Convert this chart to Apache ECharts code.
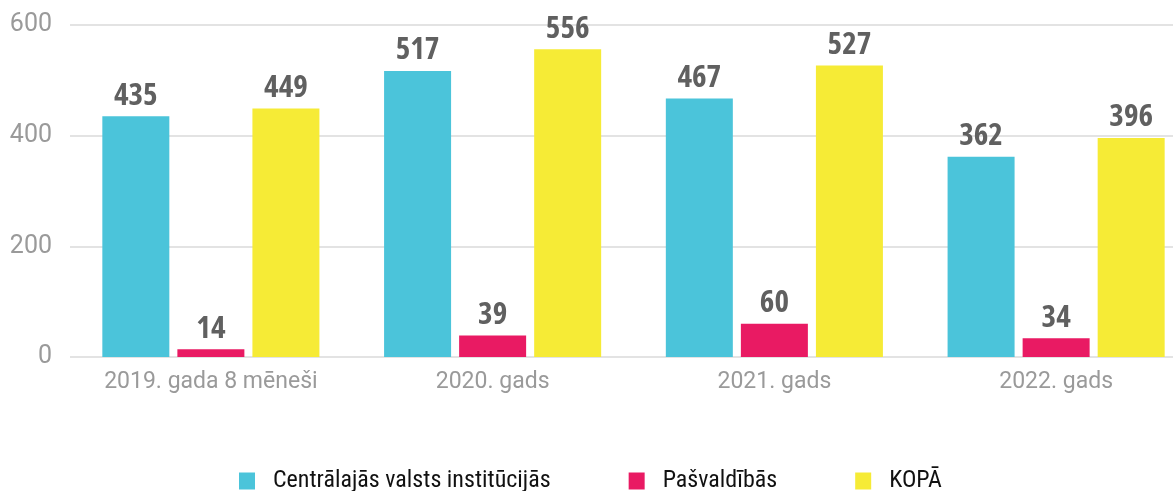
<!DOCTYPE html>
<html><head><meta charset="utf-8">
<script src="https://cdn.jsdelivr.net/npm/echarts@6/dist/echarts.min.js"></script>
<style>html,body{margin:0;padding:0;background:#fff}#c{width:1173px;height:491px}</style>
</head><body><div id="c"></div>
<script>
var categories = ['2019. gada 8 mēneši', '2020. gads', '2021. gads', '2022. gads'];
var seriesNames = ['Centrālajās valsts institūcijās', 'Pašvaldībās', 'KOPĀ'];
var centralValues = [435, 517, 467, 362];
var municipalValues = [14, 39, 60, 34];
var totalValues = [449, 556, 527, 396];
var yTicks = [0, 200, 400, 600];
var colors = ['#4BC4DA', '#E91A63', '#F6EB36'];

// Condensed font widths: families tagged with "xcond" are drawn with canvas fontStretch = condensed
(function () {
  var d = Object.getOwnPropertyDescriptor(CanvasRenderingContext2D.prototype, 'font');
  Object.defineProperty(CanvasRenderingContext2D.prototype, 'font', {
    configurable: true, enumerable: true,
    get: function () { return d.get.call(this); },
    set: function (v) {
      d.set.call(this, v);
      try { this.fontStretch = /xcond/.test(v) ? 'condensed' : 'normal'; } catch (e) {}
    }
  });
})();

var chart = echarts.init(document.getElementById('c'), null, {renderer: 'canvas'});
var labelStyle = {
  show: true, position: 'top', distance: 5,
  fontFamily: '"Open Sans", xcond, sans-serif',
  fontWeight: 'bold', fontSize: 31, color: '#606060'
};
function mk(name, data, color) {
  return {
    name: name, type: 'bar', data: data, barWidth: 67, barGap: '12%',
    itemStyle: {color: color}, label: labelStyle
  };
}
chart.setOption({
  animation: false,
  grid: {left: 70, top: 25, width: 1127, height: 332, outerBoundsMode: 'none', containLabel: false},
  legend: {
    left: 239, top: 469, itemWidth: 16, itemHeight: 17, itemGap: 78,
    icon: 'rect', padding: 0,
    textStyle: {fontFamily: 'Roboto, xcond, sans-serif', fontSize: 24, color: '#111111', padding: [0, 0, 0, 13]},
    data: seriesNames
  },
  xAxis: {
    type: 'category', data: categories,
    axisLine: {show: false}, axisTick: {show: false},
    axisLabel: {interval: 0, hideOverlap: false, fontFamily: 'Roboto, sans-serif', fontSize: 23, color: '#9a9a9a', margin: 14}
  },
  yAxis: {
    type: 'value', min: yTicks[0], max: yTicks[yTicks.length - 1], interval: 200,
    axisLine: {show: false}, axisTick: {show: false},
    axisLabel: {fontFamily: 'Roboto, sans-serif', fontSize: 25, color: '#9a9a9a', margin: 18},
    splitLine: {lineStyle: {color: '#e3e3e3', width: 2}}
  },
  series: [
    mk(seriesNames[0], centralValues, colors[0]),
    mk(seriesNames[1], municipalValues, colors[1]),
    mk(seriesNames[2], totalValues, colors[2])
  ]
});
</script></body></html>
